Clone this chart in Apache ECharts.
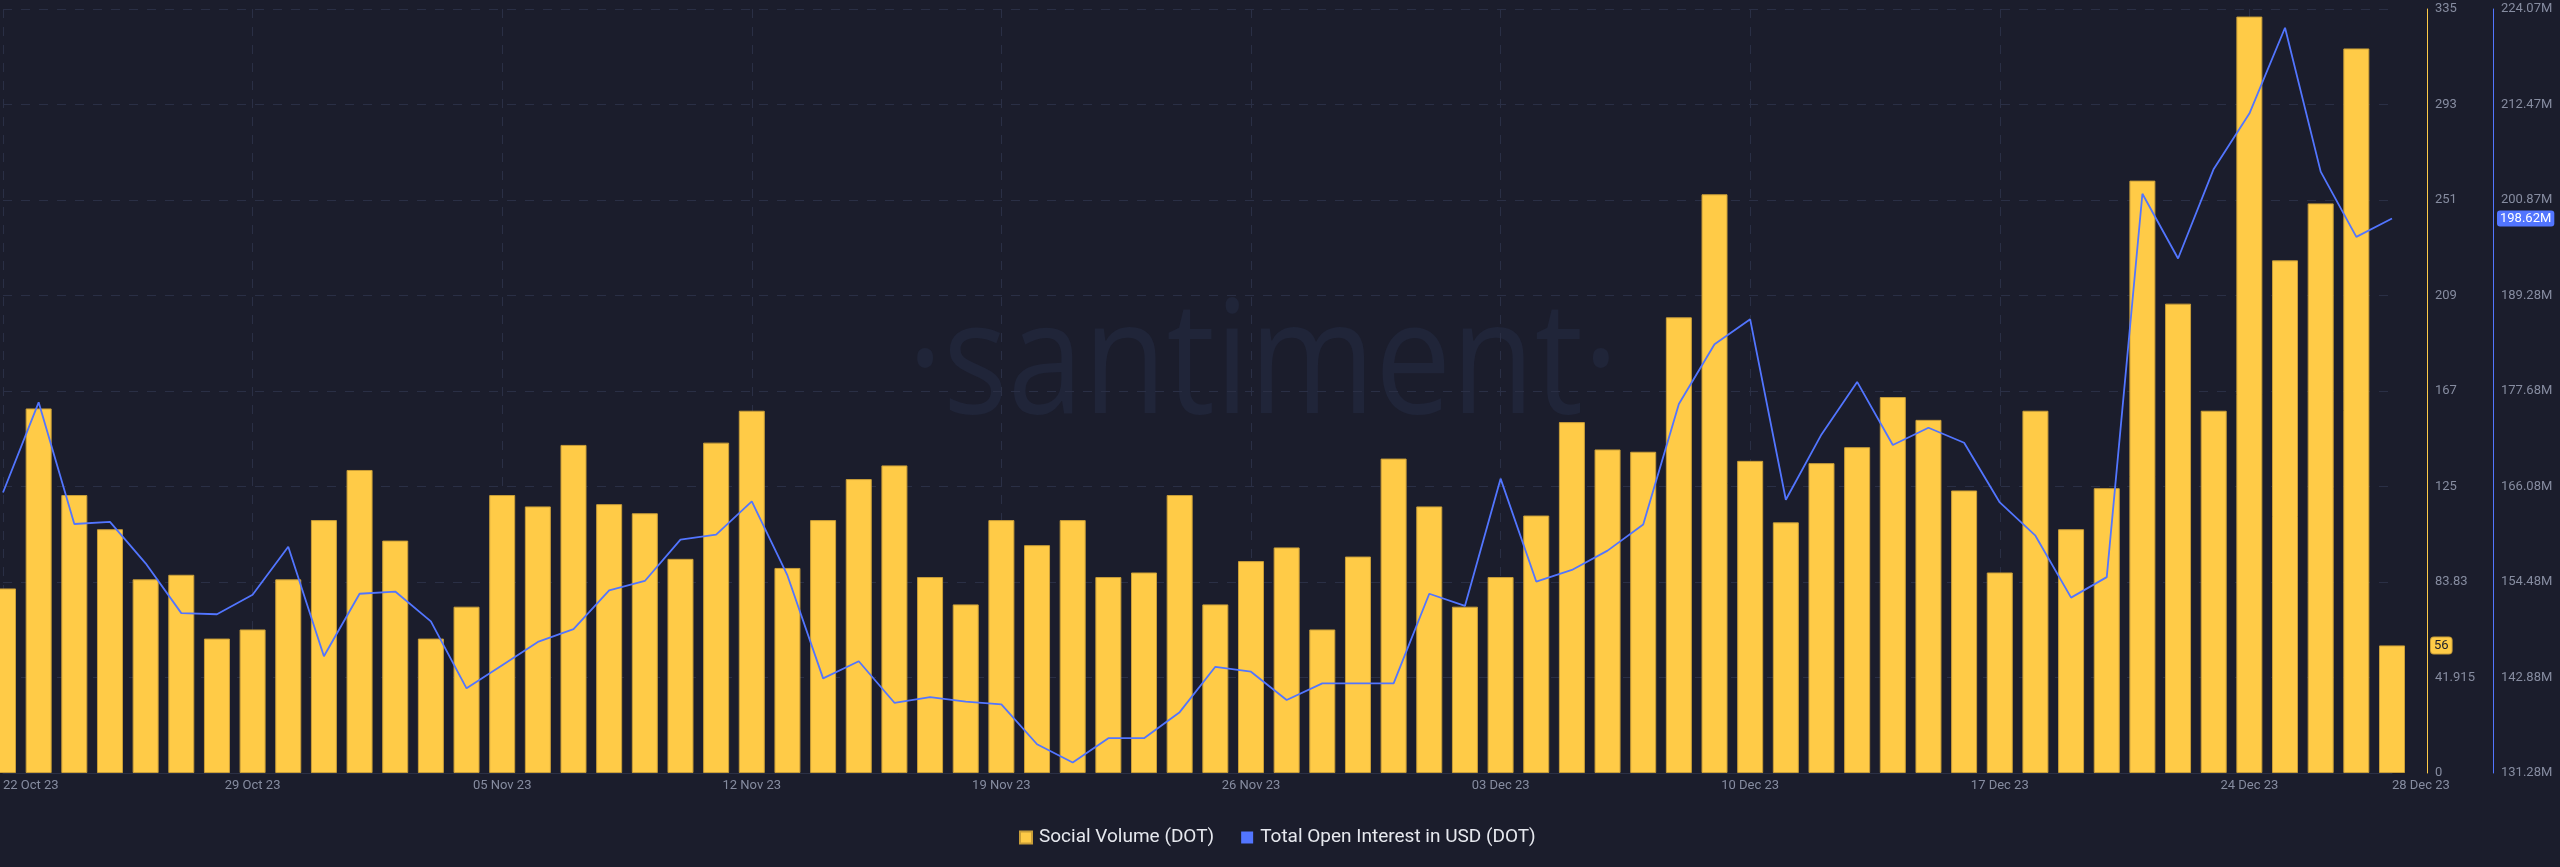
<!DOCTYPE html>
<html><head><meta charset="utf-8">
<script src="https://cdn.jsdelivr.net/npm/echarts@6/dist/echarts.min.js"></script>
<style>html,body{margin:0;padding:0;background:#1b1d2c;overflow:hidden}#c{width:2560px;height:867px}</style>
</head><body><div id="c"></div>
<script>
const dates = [
 '22 Oct 23','23 Oct 23','24 Oct 23','25 Oct 23','26 Oct 23','27 Oct 23','28 Oct 23','29 Oct 23','30 Oct 23','31 Oct 23',
 '01 Nov 23','02 Nov 23','03 Nov 23','04 Nov 23','05 Nov 23','06 Nov 23','07 Nov 23','08 Nov 23','09 Nov 23','10 Nov 23',
 '11 Nov 23','12 Nov 23','13 Nov 23','14 Nov 23','15 Nov 23','16 Nov 23','17 Nov 23','18 Nov 23','19 Nov 23','20 Nov 23',
 '21 Nov 23','22 Nov 23','23 Nov 23','24 Nov 23','25 Nov 23','26 Nov 23','27 Nov 23','28 Nov 23','29 Nov 23','30 Nov 23',
 '01 Dec 23','02 Dec 23','03 Dec 23','04 Dec 23','05 Dec 23','06 Dec 23','07 Dec 23','08 Dec 23','09 Dec 23','10 Dec 23',
 '11 Dec 23','12 Dec 23','13 Dec 23','14 Dec 23','15 Dec 23','16 Dec 23','17 Dec 23','18 Dec 23','19 Dec 23','20 Dec 23',
 '21 Dec 23','22 Dec 23','23 Dec 23','24 Dec 23','25 Dec 23','26 Dec 23','27 Dec 23','28 Dec 23'
];
const socialVolume = [
 81,160,122,107,85,87,59,63,85,111,
 133,102,59,73,122,117,144,118,114,94,
 145,159,90,111,129,135,86,74,111,100,
 111,86,88,122,74,93,99,63,95,138,
 117,73,86,113,154,142,141,200,254,137,
 110,136,143,165,155,124,88,159,107,125,
 260,206,159,332,225,250,318,56
];
// Total open interest, millions of USD
const openInterest = [
 165.35,176.30,161.52,161.78,156.75,150.70,150.56,152.92,158.76,145.46,
 153.05,153.32,149.69,141.56,144.38,147.20,148.75,153.45,154.60,159.63,
 160.24,164.27,155.27,142.77,144.85,139.81,140.49,139.95,139.61,134.77,
 132.56,135.51,135.51,138.67,144.18,143.58,140.15,142.16,142.16,142.16,
 153.05,151.57,167.03,154.53,155.94,158.29,161.45,176.10,183.35,186.38,
 164.47,172.40,178.78,171.12,173.21,171.39,164.14,160.10,152.58,155.07,
 201.63,193.77,204.65,211.37,221.79,204.32,196.39,198.62
];
const volTicks = ['0','41.915','83.83','125','167','209','251','293','335'];
const oiTicks = ['131.28M','142.88M','154.48M','166.08M','177.68M','189.28M','200.87M','212.47M','224.07M'];
const volMin = 0, volMax = 335.32;
const oiMin = 131.28, oiMax = 224.07;

const YEL = '#FFCB47', BLU = '#5275FF', TXT = '#868ca0', GRID = '#2a2f45';
const volStep = (volMax - volMin) / 8, oiStep = (oiMax - oiMin) / 8;
const chart = echarts.init(document.getElementById('c'), null, {renderer: 'canvas'});
chart.setOption({
  animation: false,
  backgroundColor: '#1b1d2c',
  textStyle: {fontFamily: 'Roboto'},
  graphic: [{
    type: 'text', x: 1263, y: 368, z: -10, silent: true, scaleX: 0.86,
    style: {text: '\u00b7santiment\u00b7', fill: '#202539', font: '400 158px "Open Sans"',
      textAlign: 'center', textVerticalAlign: 'middle'}
  }],
  grid: {left: 0, right: 168, top: 9, bottom: 94, containLabel: false},
  legend: {
    left: 1014, top: 823, icon: 'rect', itemWidth: 12, itemHeight: 12, itemGap: 27,
    textStyle: {color: '#e6e8ee', fontSize: 19, fontFamily: 'Roboto', padding: [0, 0, 0, 2]},
    data: ['Social Volume (DOT)', 'Total Open Interest in USD (DOT)']
  },
  xAxis: {
    type: 'category', data: dates, boundaryGap: false,
    axisLine: {show: true, lineStyle: {color: '#2b3045'}},
    axisTick: {show: false},
    axisLabel: {
      interval: (i) => i % 7 === 0 || i === dates.length - 1,
      color: TXT, fontSize: 13, margin: 6,
      alignMinLabel: 'left', alignMaxLabel: 'left'
    },
    splitLine: {show: true, interval: (i) => i % 7 === 0, lineStyle: {color: GRID, type: [9, 9]}}
  },
  yAxis: [{
    type: 'value', position: 'right', offset: 35, min: volMin, max: volMax, interval: volStep,
    axisLine: {show: true, lineStyle: {color: YEL}}, axisTick: {show: false},
    axisLabel: {color: TXT, fontSize: 13, margin: 8,
      formatter: (v) => volTicks[Math.round((v - volMin) / volStep)]},
    splitLine: {show: true, lineStyle: {color: GRID, type: [9, 9]}},
    axisPointer: {show: true, status: 'show', value: socialVolume[socialVolume.length - 1],
      triggerTooltip: false, type: 'line', lineStyle: {opacity: 0},
      label: {show: true, backgroundColor: YEL, color: '#1b1d2c', fontSize: 13, padding: [2, 3, 1, 3],
        borderColor: '#c99e38', borderWidth: 1, margin: 4,
        formatter: (p) => String(Math.round(p.value))}}
  }, {
    type: 'value', position: 'right', offset: 101, min: oiMin, max: oiMax, interval: oiStep,
    axisLine: {show: true, lineStyle: {color: BLU}}, axisTick: {show: false},
    axisLabel: {color: TXT, fontSize: 13, margin: 8,
      formatter: (v) => oiTicks[Math.round((v - oiMin) / oiStep)]},
    splitLine: {show: false},
    axisPointer: {show: true, status: 'show', value: openInterest[openInterest.length - 1],
      triggerTooltip: false, type: 'line', lineStyle: {opacity: 0},
      label: {show: true, backgroundColor: BLU, color: '#ffffff', fontSize: 13, padding: [2, 3, 1, 3],
        margin: 4, formatter: (p) => Number(p.value).toFixed(2) + 'M'}}
  }],
  series: [{
    name: 'Social Volume (DOT)', type: 'bar', data: socialVolume, yAxisIndex: 0,
    barWidth: 26, clip: true,
    itemStyle: {color: YEL, borderColor: '#c99e38', borderWidth: 1}
  }, {
    name: 'Total Open Interest in USD (DOT)', type: 'line', data: openInterest, yAxisIndex: 1,
    showSymbol: false, symbol: 'none', clip: true,
    lineStyle: {color: BLU, width: 1.8}, itemStyle: {color: BLU}, z: 3
  }]
});
</script></body></html>
